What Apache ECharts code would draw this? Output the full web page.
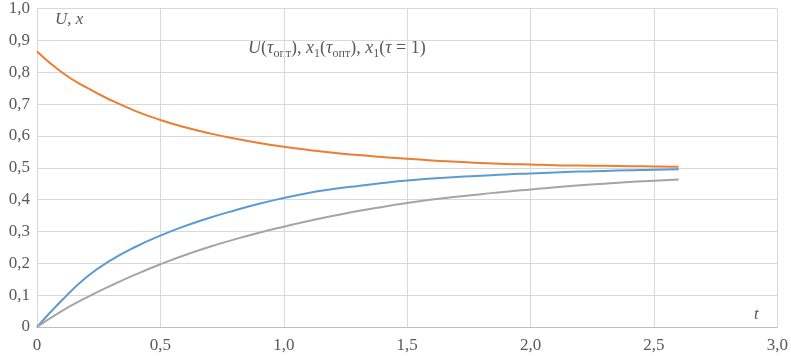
<!DOCTYPE html>
<html>
<head>
<meta charset="UTF-8">
<script src="https://cdn.jsdelivr.net/npm/echarts@6/dist/echarts.min.js"></script>
<style>
  html, body { margin: 0; padding: 0; background: #fff; }
  #chart { width: 791px; height: 356px; }
</style>
</head>
<body>
<div id="chart"></div>
<script>
// time points t
const tValues = [0, 0.1, 0.2, 0.3, 0.4, 0.5, 0.6, 0.7, 0.8, 0.9, 1.0, 1.1, 1.2, 1.3,
  1.4, 1.5, 1.6, 1.7, 1.8, 1.9, 2.0, 2.1, 2.2, 2.3, 2.4, 2.5, 2.6];

// U(tau_opt) - orange
const uOpt = [0.865, 0.80, 0.752, 0.712, 0.678, 0.65, 0.627, 0.608, 0.592, 0.578, 0.566,
  0.556, 0.547, 0.54, 0.534, 0.528, 0.523, 0.519, 0.515, 0.512, 0.51, 0.508, 0.507,
  0.506, 0.505, 0.504, 0.503];

// x1(tau_opt) - blue
const x1Opt = [0, 0.083, 0.156, 0.21, 0.252, 0.287, 0.317, 0.343, 0.366, 0.387, 0.405,
  0.421, 0.433, 0.443, 0.452, 0.46, 0.466, 0.471, 0.475, 0.479, 0.482, 0.485, 0.488,
  0.49, 0.492, 0.494, 0.495];

// x1(tau = 1) - gray
const x1Tau1 = [0, 0.05, 0.092, 0.13, 0.165, 0.197, 0.226, 0.252, 0.275, 0.296, 0.315,
  0.333, 0.349, 0.364, 0.377, 0.389, 0.4, 0.409, 0.417, 0.425, 0.432, 0.439, 0.445,
  0.45, 0.455, 0.459, 0.463];

const pairs = (ys) => tValues.map((t, i) => [t, ys[i]]);
const fmt = (v) => (v === 0 ? '0' : v.toFixed(1).replace('.', ','));

const serif = '"Liberation Serif", "DejaVu Serif", serif';
const chart = echarts.init(document.getElementById('chart'));

const line = (name, ys, color) => ({
  name: name,
  type: 'line',
  data: pairs(ys),
  smooth: true,
  showSymbol: false,
  lineStyle: { color: color, width: 2 },
  itemStyle: { color: color }
});

chart.setOption({
  animation: false,
  grid: { left: 37, right: 10, top: 6, bottom: 29 },
  xAxis: {
    type: 'value', min: 0, max: 3, interval: 0.5,
    axisLine: { lineStyle: { color: '#bfbfbf' } },
    axisTick: { show: false },
    splitLine: { lineStyle: { color: '#d9d9d9' } },
    axisLabel: { formatter: fmt, color: '#595959', fontFamily: serif, fontSize: 17, margin: 10 }
  },
  yAxis: {
    type: 'value', min: 0, max: 1, interval: 0.1,
    axisLine: { show: true, lineStyle: { color: '#d9d9d9' } },
    axisTick: { show: false },
    splitLine: { lineStyle: { color: '#d9d9d9' } },
    axisLabel: { formatter: fmt, color: '#595959', fontFamily: serif, fontSize: 17, margin: 7 }
  },
  series: [
    line('U(τопт)', uOpt, '#ED7D31'),
    line('x1(τопт)', x1Opt, '#5B9BD5'),
    line('x1(τ = 1)', x1Tau1, '#A5A5A5')
  ],
  graphic: [
    {
      type: 'text', left: 55, top: 11,
      style: { text: 'U, x', font: 'italic 17px ' + serif, fill: '#595959' }
    },
    {
      type: 'text', left: 754, top: 306,
      style: { text: 't', font: 'italic 17px ' + serif, fill: '#595959' }
    },
    {
      type: 'text', left: 248, top: 39,
      style: {
        text: '{i|U}{n|(}{i|τ}{s|опт}{n|), }{i|x}{s|1}{n|(}{i|τ}{s|опт}{n|), }{i|x}{s|1}{n|(}{i|τ}{n| = 1)}',
        rich: {
          i: { fontFamily: serif, fontStyle: 'italic', fontSize: 18, fill: '#595959', lineHeight: 21, verticalAlign: 'top' },
          n: { fontFamily: serif, fontSize: 18, fill: '#595959', lineHeight: 21, verticalAlign: 'top' },
          s: { fontFamily: serif, fontSize: 12, fill: '#595959', lineHeight: 12, padding: [9, 0, 0, 0], verticalAlign: 'top' }
        }
      }
    }
  ]
});
</script>
</body>
</html>
